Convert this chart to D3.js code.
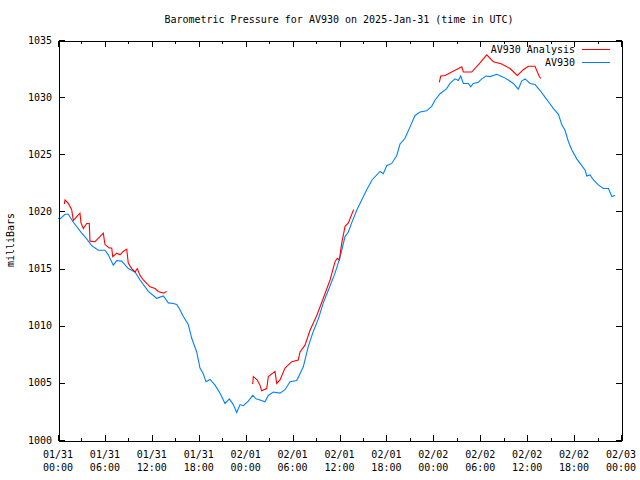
<!DOCTYPE html>
<html>
<head>
<meta charset="utf-8">
<script src="https://cdn.jsdelivr.net/npm/d3@7"></script>
<style>
  html, body { margin: 0; padding: 0; background: #fff; }
  svg { display: block; }
  text { font-family: "DejaVu Sans Mono", "Liberation Mono", monospace; font-size: 10px; fill: #000; }
</style>
</head>
<body>
<svg id="chart" width="640" height="480"></svg>
<script>
// ---- Data (hours since 2025-01-31 00:00 UTC) ----
const stationHours = [0,0.26,0.9,1.32,1.96,3.03,3.67,4.31,5.15,6.01,6.43,7.07,7.51,8.15,8.99,9.85,10.49,11.55,12.62,13.47,14.11,14.75,15.18,15.6,16.03,16.66,17.1,17.74,18.16,18.58,18.93,19.44,20.08,20.72,21.36,21.91,22.42,22.85,23.28,23.7,24.34,24.9,25.32,25.83,26.47,26.9,27.54,28.39,29.03,29.67,30.53,30.95,31.37,32.01,32.65,33.29,33.93,34.57,35.43,36.07,36.71,37.13,37.56,38.2,38.84,39.48,40.16,41.18,41.6,42.04,42.68,43.32,43.74,44.38,45.02,45.66,46.3,47.15,47.79,48.22,48.86,49.71,50.13,50.77,51.2,51.5,51.84,52.47,52.78,53.11,53.75,54.19,54.74,55.25,56.11,56.95,57.59,58.23,58.87,59.3,59.73,60.37,61.0,61.64,62.28,62.72,63.36,64.0,64.42,64.84,65.28,65.7,66.34,66.77,67.41,67.62,68.04,68.48,69.12,69.76,70.4,70.82,71.24];
const stationPressure = [1019.4,1019.35,1019.75,1019.75,1019.05,1018.1,1017.6,1017.0,1016.6,1016.6,1016.2,1015.3,1015.7,1015.65,1015.0,1014.7,1014.0,1013.0,1012.4,1012.6,1012.0,1011.95,1011.85,1011.4,1010.8,1010.1,1008.9,1007.7,1006.3,1005.8,1005.1,1005.3,1004.8,1004.1,1003.2,1003.6,1003.1,1002.4,1003.1,1003.0,1003.4,1003.9,1003.6,1003.5,1003.35,1003.9,1004.2,1004.1,1004.4,1005.1,1005.2,1005.8,1006.4,1008.2,1009.5,1010.6,1012.0,1013.1,1014.6,1016.0,1017.8,1018.2,1019.0,1020.1,1021.0,1021.9,1022.75,1023.5,1023.3,1024.0,1024.2,1024.9,1025.9,1026.4,1027.4,1028.4,1028.7,1028.8,1029.2,1029.75,1030.3,1030.75,1031.2,1031.6,1031.45,1031.85,1031.2,1031.2,1030.9,1031.2,1031.3,1031.6,1031.85,1031.8,1032.0,1031.75,1031.5,1031.2,1030.7,1031.4,1031.6,1031.2,1031.1,1030.6,1030.0,1029.6,1029.0,1028.5,1027.6,1027.1,1026.1,1025.4,1024.6,1024.2,1023.6,1023.1,1023.2,1022.75,1022.3,1022.0,1022.0,1021.3,1021.4];

// Analysis series; null marks a gap between segments
const analysisHours = [0.81,0.9,1.32,1.75,1.96,2.39,2.81,2.94,3.24,3.67,4.0,4.09,4.73,5.15,5.79,6.01,6.56,6.87,7.0,7.51,7.93,8.35,8.79,8.99,9.43,9.85,10.14,10.49,10.91,11.34,11.77,12.41,12.83,13.47,13.9,
  null,
  24.9,24.98,25.49,25.83,26.05,26.69,26.9,27.75,27.97,28.39,29.03,29.89,30.73,30.95,31.59,32.23,33.09,33.93,34.79,35.43,35.72,35.98,36.28,36.71,37.13,37.77,37.86,
  null,
  48.76,48.95,49.5,50.35,51.63,51.84,52.91,53.97,54.83,55.67,56.75,57.81,58.74,59.51,60.15,61.0,61.55,61.73];
const analysisPressure = [1020.65,1021.0,1020.7,1020.15,1019.2,1019.55,1019.85,1019.0,1018.5,1018.95,1018.95,1017.4,1017.35,1017.65,1018.1,1017.1,1016.8,1016.8,1016.05,1016.35,1016.2,1016.5,1016.7,1015.45,1015.0,1014.7,1015.0,1014.4,1014.0,1013.7,1013.4,1013.25,1013.0,1012.85,1013.0,
  null,
  1004.9,1005.55,1005.25,1004.8,1004.3,1004.5,1005.55,1006.0,1004.95,1005.25,1006.3,1006.85,1007.0,1007.7,1008.3,1009.6,1010.9,1012.4,1014.0,1015.6,1015.9,1015.75,1017.2,1018.7,1019.0,1020.1,1020.15,
  null,
  1031.3,1031.85,1031.9,1032.2,1032.65,1032.2,1032.2,1033.0,1033.7,1033.1,1032.9,1032.5,1031.9,1032.4,1032.7,1032.7,1031.8,1031.65];

const yTicks = [1000,1005,1010,1015,1020,1025,1030,1035];
const xTickHours = [0,6,12,18,24,30,36,42,48,54,60,66,72];
const titleText = "Barometric Pressure for AV930 on 2025-Jan-31 (time in UTC)";
const yLabel = "milliBars";
const seriesNames = ["AV930 Analysis", "AV930"];
const seriesColors = ["#ff0000", "#0080ff"];

// ---- Chart ----
const start = Date.UTC(2025, 0, 31, 0, 0);
const toDate = h => new Date(start + h * 3600000);

const L = 58, R = 621, T = 40, B = 440;
const svg = d3.select("#chart");
const x = d3.scaleUtc().domain([toDate(0), toDate(72)]).range([L, R]);
const y = d3.scaleLinear().domain([1000, 1035]).range([B, T]);

const station = stationHours.map((h, i) => ({ d: toDate(h), p: stationPressure[i] }));
const analysis = analysisHours.map((h, i) => ({ d: h == null ? null : toDate(h), p: analysisPressure[i] }));

const line = d3.line().defined(d => d.d != null && d.p != null).x(d => x(d.d)).y(d => y(d.p));

// Data lines
svg.append("path").datum(station).attr("d", line)
  .attr("fill", "none").attr("stroke", seriesColors[1]).attr("stroke-width", 1.1);
svg.append("path").datum(analysis).attr("d", line)
  .attr("fill", "none").attr("stroke", seriesColors[0]).attr("stroke-width", 1.1);

// Axes
const fmtTop = d3.utcFormat("%m/%d"), fmtBot = d3.utcFormat("%H:%M");
const xTickDates = xTickHours.map(toDate);
const minorDates = xTickHours.slice(0, -1).map(h => toDate(h + 3));

const axisG = svg.append("g").attr("shape-rendering", "crispEdges");

// bottom
axisG.append("g").attr("transform", `translate(0,${B + 0.5})`)
  .call(d3.axisBottom(x).tickValues(xTickDates).tickSizeInner(-6).tickSizeOuter(0).tickFormat(""));
axisG.append("g").attr("transform", `translate(0,${B + 0.5})`)
  .call(d3.axisBottom(x).tickValues(minorDates).tickSizeInner(-3).tickSizeOuter(0).tickFormat(""))
  .select(".domain").remove();
// top
axisG.append("g").attr("transform", `translate(0,${T + 0.5})`)
  .call(d3.axisTop(x).tickValues(xTickDates).tickSizeInner(-6).tickSizeOuter(0).tickFormat(""));
axisG.append("g").attr("transform", `translate(0,${T + 0.5})`)
  .call(d3.axisTop(x).tickValues(minorDates).tickSizeInner(-3).tickSizeOuter(0).tickFormat(""))
  .select(".domain").remove();
// left
axisG.append("g").attr("transform", `translate(${L + 0.5},0)`)
  .call(d3.axisLeft(y).tickValues(yTicks).tickSizeInner(-6).tickSizeOuter(0).tickFormat(""));
// right
axisG.append("g").attr("transform", `translate(${R + 0.5},0)`)
  .call(d3.axisRight(y).tickValues(yTicks).tickSizeInner(-6).tickSizeOuter(0).tickFormat(""));

axisG.selectAll("path.domain, line").attr("stroke", "#000").attr("stroke-width", 1);

// x labels (two lines)
const xl = svg.append("g");
xTickDates.forEach(d => {
  const t = xl.append("text").attr("x", x(d)).attr("text-anchor", "middle");
  t.append("tspan").attr("x", x(d)).attr("y", 458).text(fmtTop(d));
  t.append("tspan").attr("x", x(d)).attr("y", 471).text(fmtBot(d));
});

// y labels
svg.append("g").selectAll("text").data(yTicks).join("text")
  .attr("x", 52).attr("y", d => y(d) + 3.5).attr("text-anchor", "end").text(d => d);

// title
svg.append("text").attr("x", 339).attr("y", 23).attr("text-anchor", "middle").text(titleText);

// y axis label
svg.append("text").attr("transform", "translate(14,240) rotate(-90)")
  .attr("text-anchor", "middle").text(yLabel);

// legend
const leg = svg.append("g");
seriesNames.forEach((name, i) => {
  const yy = 49 + i * 13;
  leg.append("text").attr("x", 575).attr("y", yy + 3.5).attr("text-anchor", "end").text(name);
  leg.append("line").attr("x1", 582).attr("x2", 610).attr("y1", yy + 0.5).attr("y2", yy + 0.5)
    .attr("stroke", seriesColors[i]).attr("stroke-width", 1).attr("shape-rendering", "crispEdges");
});
</script>
</body>
</html>
